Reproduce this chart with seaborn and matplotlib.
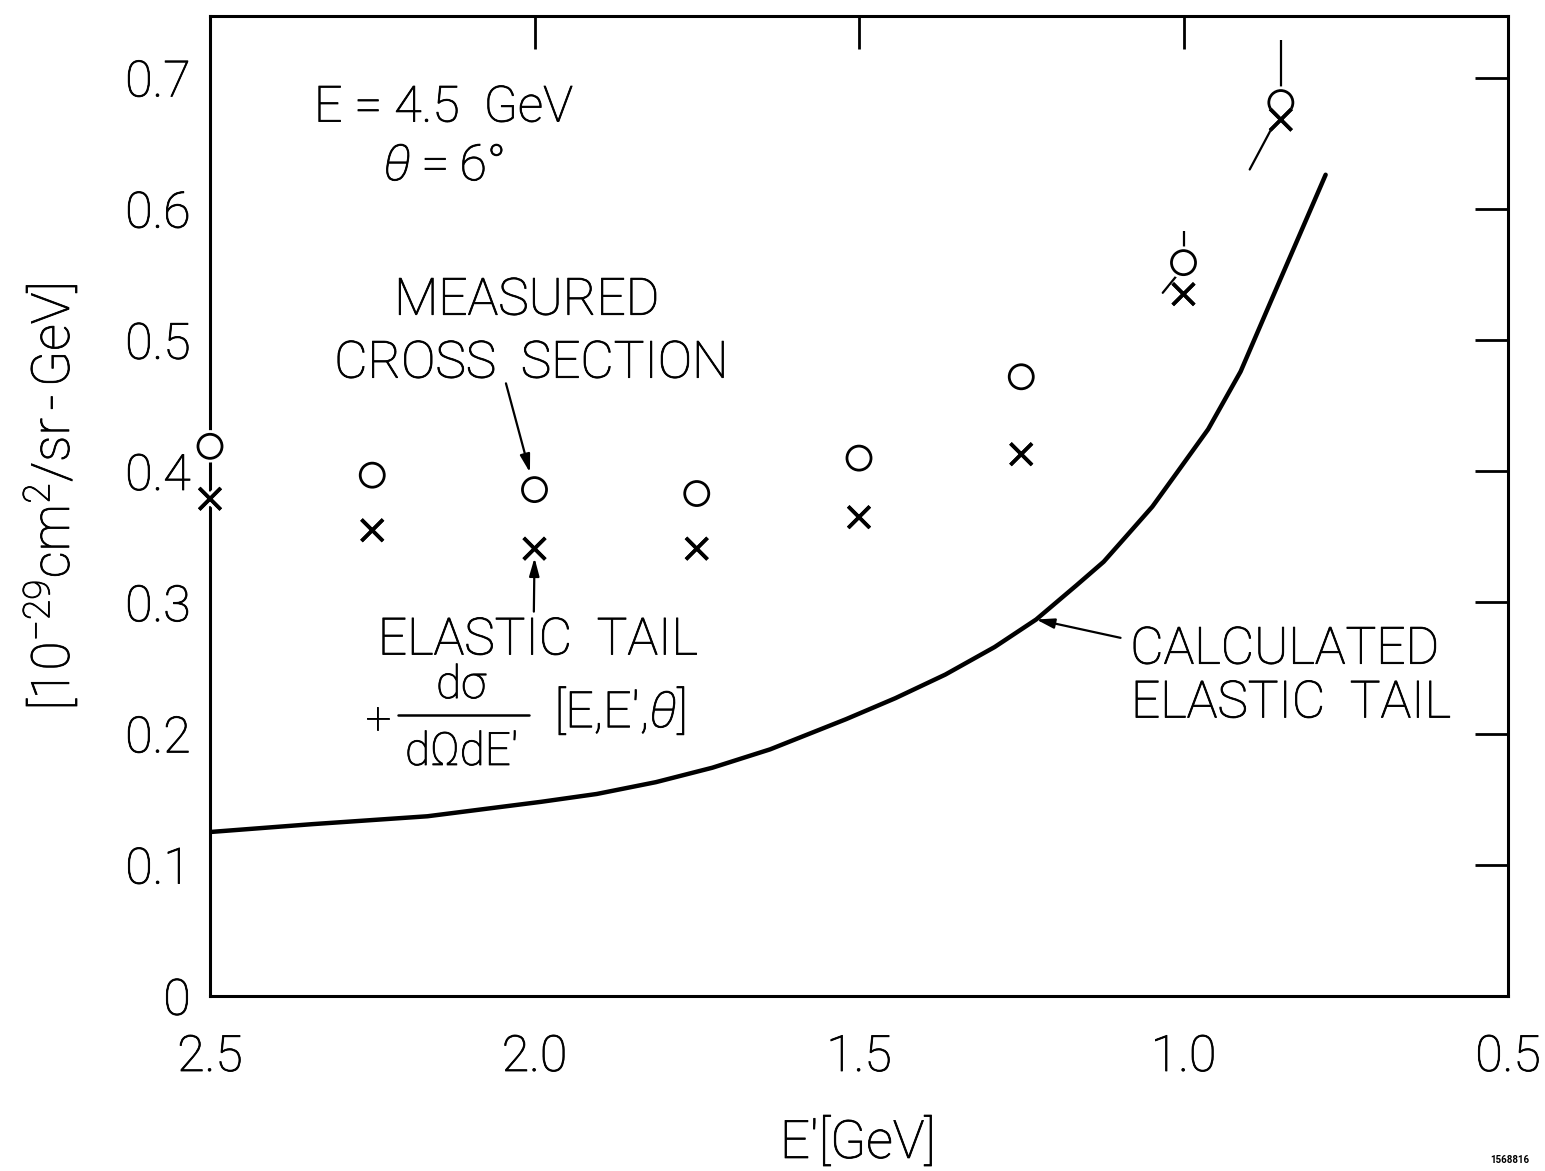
import matplotlib
matplotlib.use("Agg")
import matplotlib.pyplot as plt
import matplotlib.patheffects as pe
import pandas as pd
import seaborn as sns

# Scattered-electron energy E' [GeV] of the measured points
e_prime = [2.50, 2.25, 2.00, 1.75, 1.50, 1.25, 1.00, 0.85]
# Measured cross section [1e-29 cm^2/sr-GeV]
measured = [0.419, 0.397, 0.386, 0.383, 0.410, 0.472, 0.559, 0.681]
# Upper error on the measured cross section
measured_err_up = [0.0, 0.0, 0.0, 0.0, 0.0, 0.0, 0.024, 0.048]
# Elastic tail + dσ/dΩdE'[E,E',θ]
tail_plus_xs = [0.379, 0.355, 0.341, 0.341, 0.365, 0.413, 0.535, 0.668]

# Calculated elastic radiative tail
curve_e = [2.500, 2.342, 2.165, 1.990, 1.904, 1.813, 1.726, 1.637, 1.520,
           1.444, 1.367, 1.291, 1.227, 1.165, 1.123, 1.089, 1.048, 1.010,
           0.962, 0.912, 0.865, 0.816, 0.781]
curve_xs = [0.125, 0.131, 0.137, 0.148, 0.154, 0.163, 0.174, 0.188, 0.211,
            0.227, 0.245, 0.266, 0.287, 0.313, 0.331, 0.350, 0.373, 0.399,
            0.432, 0.476, 0.530, 0.586, 0.626]

# Short hand-drawn strokes next to the two highest-E' points
stroke_e = [(1.032, 1.004), (0.898, 0.857)]
stroke_y = [(0.536, 0.553), (0.630, 0.668)]

x_ticks = [2.5, 2.0, 1.5, 1.0, 0.5]
x_tick_labels = ["2.5", "2.0", "1.5", "1.0", "0.5"]
y_ticks = [0.0, 0.1, 0.2, 0.3, 0.4, 0.5, 0.6, 0.7]
y_tick_labels = ["0", "0.1", "0.2", "0.3", "0.4", "0.5", "0.6", "0.7"]

sns.set_theme(style="white")
plt.rcParams["font.family"] = ["Roboto", "DejaVu Sans"]
plt.rcParams["font.weight"] = "light"
plt.rcParams["axes.labelweight"] = "light"
plt.rcParams["text.color"] = "black"
plt.rcParams["axes.labelcolor"] = "black"
plt.rcParams["mathtext.fontset"] = "custom"
plt.rcParams["mathtext.rm"] = "Roboto:light"
plt.rcParams["mathtext.it"] = "Roboto:italic:light"
plt.rcParams["mathtext.bf"] = "Roboto:bold"
plt.rcParams["mathtext.sf"] = "Roboto:light"

# thin outline that gives the light lettering a pen-drawn stroke weight
ink = [pe.withStroke(linewidth=0.6, foreground="black")]

points = pd.DataFrame({"E": e_prime, "measured": measured, "tail": tail_plus_xs})
curve = pd.DataFrame({"E": curve_e, "xs": curve_xs})

fig = plt.figure(figsize=(15.45, 11.71), dpi=100)
ax = fig.add_axes([210 / 1545, 175 / 1171, 1298 / 1545, 980 / 1171])

sns.lineplot(data=curve, x="E", y="xs", color="black", linewidth=3.2,
             sort=False, ax=ax, zorder=3)

ax.errorbar(e_prime, measured, yerr=[[0.0] * len(measured), measured_err_up],
            fmt="none", ecolor="black", elinewidth=1.6, capsize=0, zorder=2)

for ex, ey in zip(stroke_e, stroke_y):
    ax.plot(ex, ey, color="black", linewidth=1.6, zorder=2)

sns.scatterplot(data=points, x="E", y="measured", marker="o", s=300,
                facecolor="white", edgecolor="black", linewidth=2.0,
                clip_on=False, zorder=5, ax=ax,
                path_effects=[pe.withStroke(linewidth=6, foreground="white")])
sns.scatterplot(data=points, x="E", y="tail", marker="x", s=240,
                color="black", linewidth=2.6, clip_on=False, zorder=5, ax=ax,
                path_effects=[pe.withStroke(linewidth=7, foreground="white"), pe.Normal()])

ax.set_xlim(2.5, 0.5)
ax.set_ylim(0.0, 0.747)
ax.set_xticks(x_ticks)
ax.set_xticklabels(x_tick_labels)
ax.set_yticks(y_ticks)
ax.set_yticklabels(y_tick_labels)

for side in ["left", "right", "top", "bottom"]:
    ax.spines[side].set_visible(True)
    ax.spines[side].set_linewidth(2.2)
    ax.spines[side].set_color("black")
    ax.spines[side].set_zorder(1)

ax.tick_params(axis="both", which="major", direction="in", length=24, width=2.0,
               color="black", labelsize=36, labelcolor="black",
               top=True, right=True)
ax.tick_params(axis="x", pad=27)
ax.tick_params(axis="y", pad=14)
for lab in ax.get_xticklabels() + ax.get_yticklabels():
    lab.set_path_effects(ink)

ax.set_xlabel("E′[GeV]", fontsize=38, color="black", path_effects=ink)
ax.xaxis.set_label_coords(0.499, -0.123)
ax.set_ylabel(r"$[10^{-29}\mathrm{cm}^{2}/\mathrm{sr\,\text{-}\,GeV}]$", fontsize=38,
              color="black", path_effects=ink)
ax.yaxis.set_label_coords(-0.100, 0.509)

txt = dict(color="black", fontsize=37, ha="center", va="center", path_effects=ink)
ax.text(2.140, 0.677, "E = 4.5  GeV", **dict(txt, fontsize=36))
ax.text(2.140, 0.632, "$\\theta$\u2009=\u20096°", **dict(txt, fontsize=36))
ax.text(2.012, 0.530, "MEASURED", **txt)
ax.text(2.005, 0.482, "CROSS  SECTION", **txt)
ax.text(1.995, 0.271, "ELASTIC  TAIL", **txt)

# + dσ / dΩdE' [E,E',θ]
frac = dict(color="black", fontsize=33, ha="center", va="center", path_effects=ink)
ax.text(2.241, 0.210, "+", **frac)
ax.text(2.113, 0.237, "dσ", **frac)
ax.plot([2.210, 2.008], [0.214, 0.214], color="black", linewidth=1.8)
ax.text(2.112, 0.186, "dΩdE′", **frac)
ax.text(1.868, 0.217, r"[E,E′,$\theta$]", **dict(frac, fontsize=36))

ax.text(1.082, 0.264, "CALCULATED", **dict(txt, ha="left"))
ax.text(1.081, 0.223, "ELASTIC  TAIL", **dict(txt, ha="left"))

arrow = dict(arrowstyle="-|>,head_length=0.9,head_width=0.25", color="black",
             linewidth=1.6, shrinkA=0, shrinkB=0)
ax.annotate("", xy=(2.007, 0.399), xytext=(2.044, 0.467), arrowprops=arrow)
ax.annotate("", xy=(2.000, 0.334), xytext=(2.001, 0.293), arrowprops=arrow)
ax.annotate("", xy=(1.227, 0.287), xytext=(1.097, 0.273), arrowprops=arrow)

fig.text(1510 / 1545, 1 - 1160 / 1171, "1568816", fontsize=7, fontweight="bold",
         ha="center", va="center", color="black")

fig.savefig("out.png", dpi=100, facecolor="white")
